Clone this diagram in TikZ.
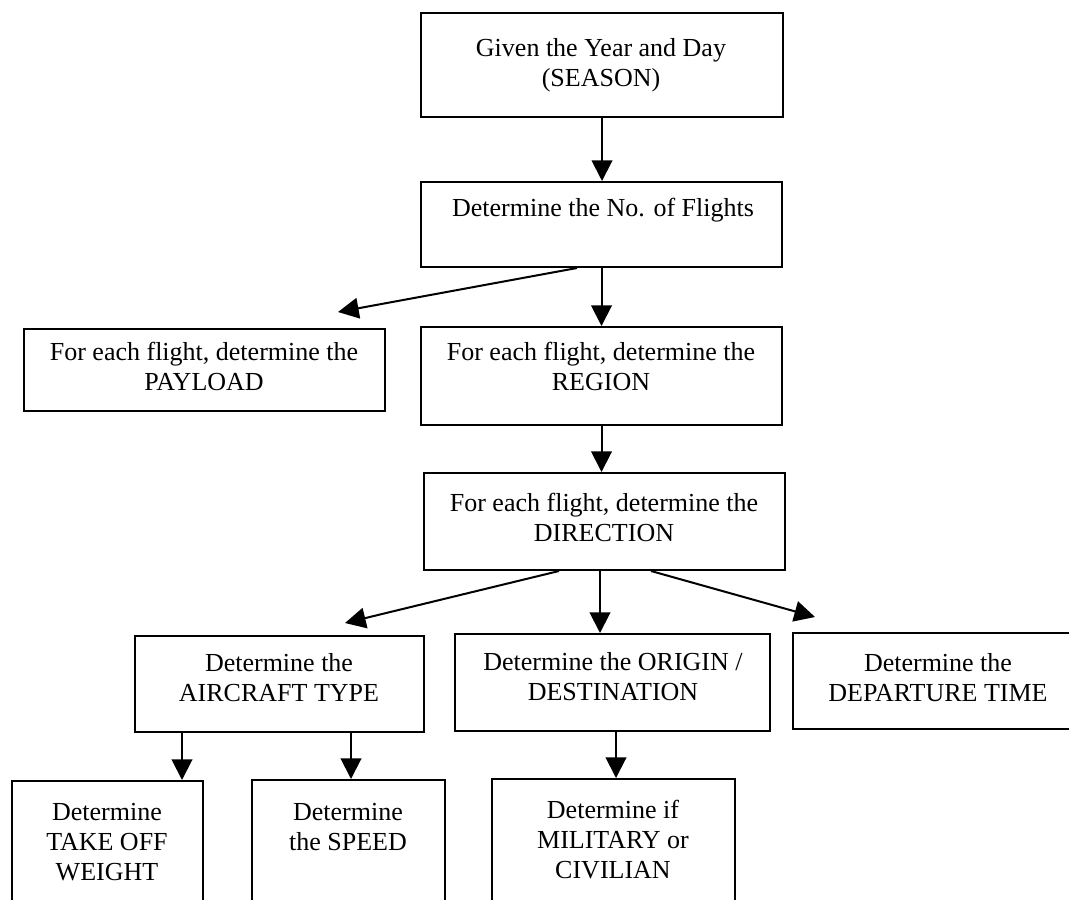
\documentclass[tikz,border=0pt]{standalone}
\usepackage{fontspec}
\setmainfont{Liberation Serif}
\usetikzlibrary{arrows.meta,fit,calc}
\begin{document}
\begin{tikzpicture}[x=0.75pt,y=-0.75pt,
  box/.style={draw=black,line width=1.5pt,inner sep=0pt},
  txt/.style={align=center,font=\fontsize{19.5pt}{22.5pt}\selectfont,inner sep=0pt},
  arr/.style={line width=1.5pt,-{Triangle[length=15.5pt,width=15.5pt]}}]
\useasboundingbox (0,0) rectangle (1069,899);
% boxes
\node[box,fit={(421,13) (783,117)}] (b1) {};
\node[box,fit={(421,182) (782,267)}] (b2) {};
\node[box,fit={(24,329) (385,411)}] (pay) {};
\node[box,fit={(421,327) (782,425)}] (reg) {};
\node[box,fit={(424,473) (785,570)}] (dir) {};
\node[box,fit={(135,636) (424,732)}] (ac) {};
\node[box,fit={(455,634) (770,731)}] (org) {};
\node[box,fit={(793,633) (1083,729)}] (dep) {};
\node[box,fit={(12,781) (203,950)}] (tow) {};
\node[box,fit={(252,780) (445,950)}] (spd) {};
\node[box,fit={(492,779) (735,950)}] (mil) {};
% texts
\node[txt] (t1) at (601,65) {Given the Year and Day\\(SEASON)};
\node[txt] (t2) at (603,210) {Determine the No. of Flights};
\node[txt] (tpay) at (204,366) {For each flight, determine the\\PAYLOAD};
\node[txt] (treg) at (601,366) {For each flight, determine the\\REGION};
\node[txt] (tdir) at (604,517) {For each flight, determine the\\DIRECTION};
\node[txt] (tac) at (279,678) {Determine the\\AIRCRAFT TYPE};
\node[txt] (torg) at (613,677) {Determine the ORIGIN /\\DESTINATION};
\node[txt] (tdep) at (938,678) {Determine the\\DEPARTURE TIME};
\node[txt] (ttow) at (107,842) {Determine\\TAKE OFF\\WEIGHT};
\node[txt] (tspd) at (348,827) {Determine\\the SPEED};
\node[txt] (tmil) at (613,840) {Determine if\\MILITARY or\\CIVILIAN};
% connectors
\draw[arr] (b1.south) -- (b1.south |- b2.north);
\draw[arr] (b2.south) -- (b2.south |- reg.north);
\coordinate (s1) at ($(b2.south)+(-24.5,0)$);
\coordinate (e1) at ($(pay.north east)+(-48,-16)$);
\draw[arr] (s1) -- (e1);
\draw[arr] (reg.south) -- (reg.south |- dir.north);
\coordinate (s2) at ($(dir.south)+(-45.5,0)$);
\coordinate (e2) at ($(ac.north west)+(211,-12)$);
\draw[arr] (s2) -- (e2);
\coordinate (s3) at ($(dir.south)+(-4.5,0)$);
\draw[arr] (s3) -- (s3 |- org.north);
\coordinate (s4) at ($(dir.south)+(46.5,0)$);
\coordinate (e4) at ($(dep.north west)+(23,-15)$);
\draw[arr] (s4) -- (e4);
\coordinate (s5) at ($(ac.south west)+(48,0)$);
\draw[arr] (s5) -- (s5 |- tow.north);
\coordinate (s6) at ($(ac.south west)+(217,0)$);
\draw[arr] (s6) -- (s6 |- spd.north);
\coordinate (s7) at ($(org.south west)+(162,0)$);
\draw[arr] (s7) -- (s7 |- mil.north);
\end{tikzpicture}
\end{document}
